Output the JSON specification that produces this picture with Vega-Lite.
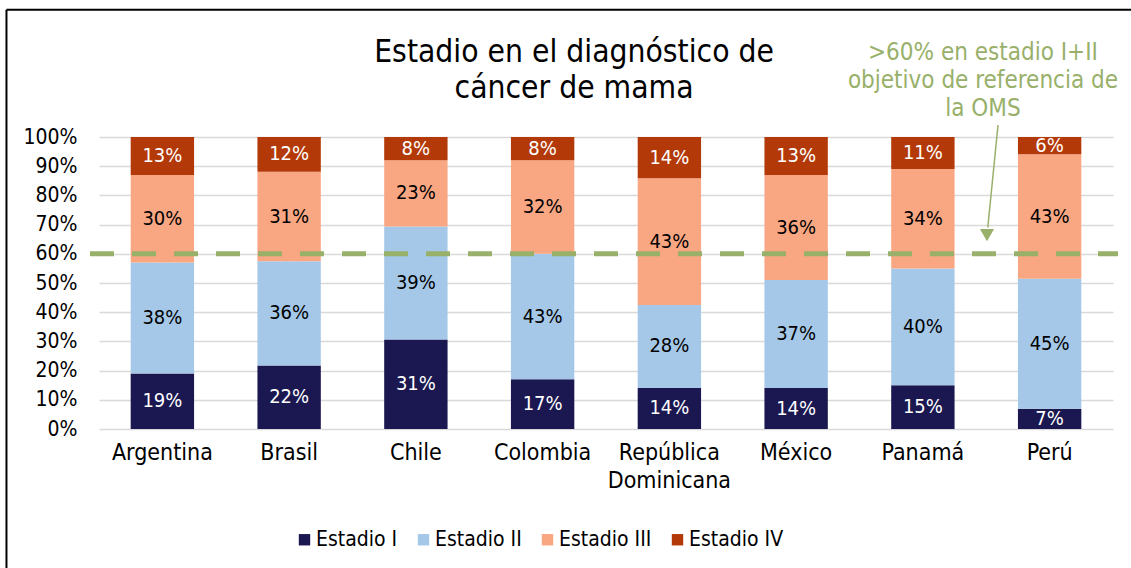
{
  "$schema": "https://vega.github.io/schema/vega-lite/v6.json",
  "width": 1014,
  "height": 292,
  "autosize": {"type": "none"},
  "padding": {"left": 99, "top": 137, "right": 18, "bottom": 139},
  "background": "white",
  "config": {
    "font": "DejaVu Sans Condensed, DejaVu Sans, sans-serif",
    "view": {"stroke": null},
    "axisY": {
      "title": null,
      "format": ".0%",
      "labelOverlap": false,
      "labelFontSize": 21,
      "labelColor": "black",
      "labelPadding": 22,
      "ticks": false,
      "domain": false,
      "grid": true,
      "gridColor": "#D9D9D9",
      "gridWidth": 1.5
    }
  },
  "datasets": {
    "bars": [
      {"pais": "Argentina", "estadio": "Estadio I", "orden": 1, "valor": 0.19},
      {"pais": "Argentina", "estadio": "Estadio II", "orden": 2, "valor": 0.38},
      {"pais": "Argentina", "estadio": "Estadio III", "orden": 3, "valor": 0.30},
      {"pais": "Argentina", "estadio": "Estadio IV", "orden": 4, "valor": 0.13},
      {"pais": "Brasil", "estadio": "Estadio I", "orden": 1, "valor": 0.22},
      {"pais": "Brasil", "estadio": "Estadio II", "orden": 2, "valor": 0.36},
      {"pais": "Brasil", "estadio": "Estadio III", "orden": 3, "valor": 0.31},
      {"pais": "Brasil", "estadio": "Estadio IV", "orden": 4, "valor": 0.12},
      {"pais": "Chile", "estadio": "Estadio I", "orden": 1, "valor": 0.31},
      {"pais": "Chile", "estadio": "Estadio II", "orden": 2, "valor": 0.39},
      {"pais": "Chile", "estadio": "Estadio III", "orden": 3, "valor": 0.23},
      {"pais": "Chile", "estadio": "Estadio IV", "orden": 4, "valor": 0.08},
      {"pais": "Colombia", "estadio": "Estadio I", "orden": 1, "valor": 0.17},
      {"pais": "Colombia", "estadio": "Estadio II", "orden": 2, "valor": 0.43},
      {"pais": "Colombia", "estadio": "Estadio III", "orden": 3, "valor": 0.32},
      {"pais": "Colombia", "estadio": "Estadio IV", "orden": 4, "valor": 0.08},
      {"pais": "República Dominicana", "estadio": "Estadio I", "orden": 1, "valor": 0.14},
      {"pais": "República Dominicana", "estadio": "Estadio II", "orden": 2, "valor": 0.28},
      {"pais": "República Dominicana", "estadio": "Estadio III", "orden": 3, "valor": 0.43},
      {"pais": "República Dominicana", "estadio": "Estadio IV", "orden": 4, "valor": 0.14},
      {"pais": "México", "estadio": "Estadio I", "orden": 1, "valor": 0.14},
      {"pais": "México", "estadio": "Estadio II", "orden": 2, "valor": 0.37},
      {"pais": "México", "estadio": "Estadio III", "orden": 3, "valor": 0.36},
      {"pais": "México", "estadio": "Estadio IV", "orden": 4, "valor": 0.13},
      {"pais": "Panamá", "estadio": "Estadio I", "orden": 1, "valor": 0.15},
      {"pais": "Panamá", "estadio": "Estadio II", "orden": 2, "valor": 0.40},
      {"pais": "Panamá", "estadio": "Estadio III", "orden": 3, "valor": 0.34},
      {"pais": "Panamá", "estadio": "Estadio IV", "orden": 4, "valor": 0.11},
      {"pais": "Perú", "estadio": "Estadio I", "orden": 1, "valor": 0.07},
      {"pais": "Perú", "estadio": "Estadio II", "orden": 2, "valor": 0.45},
      {"pais": "Perú", "estadio": "Estadio III", "orden": 3, "valor": 0.43},
      {"pais": "Perú", "estadio": "Estadio IV", "orden": 4, "valor": 0.06}
    ],
    "objetivo": [{"nivel": 0.6, "desde": -0.071, "hasta": 8.04}],
    "titulo": [{"texto": ["Estadio en el diagnóstico de", "cáncer de mama"], "x": 3.748, "y": 1.2568}],
    "nota": [{"texto": [">60% en estadio I+II", "objetivo de referencia de", "la OMS"], "x": 6.974, "y": 1.265}],
    "flecha": [{"x1": 7.093, "y1": 1.041, "x2": 7.012, "y2": 0.69, "xp": 7.006, "yp": 0.664}],
    "marco": [
      {"x1": -0.73, "x2": 8.3, "y1": 1.436, "y2": 1.436},
      {"x1": -0.73, "x2": -0.73, "y1": 1.436, "y2": -0.6}
    ]
  },
  "resolve": {"scale": {"x": "independent"}},
  "layer": [
    {
      "data": {"name": "bars"},
      "transform": [
        {"stack": "valor", "groupby": ["pais"], "sort": [{"field": "orden"}], "offset": "normalize", "as": ["y0", "y1"]},
        {"calculate": "(datum.y0 + datum.y1) / 2", "as": "mid"}
      ],
      "encoding": {
        "x": {
          "field": "pais",
          "type": "nominal",
          "sort": null,
          "scale": {"paddingInner": 0.5, "paddingOuter": 0.25},
          "axis": {
            "title": null,
            "labelAngle": 0,
            "labelFontSize": 23,
            "labelColor": "black",
            "labelPadding": 12,
            "labelLineHeight": 28,
            "labelLimit": 300,
            "labelExpr": "datum.label == 'República Dominicana' ? ['República', 'Dominicana'] : datum.label",
            "ticks": false,
            "domain": false,
            "grid": false
          }
        }
      },
      "layer": [
        {
          "mark": {"type": "bar"},
          "encoding": {
            "y": {
              "field": "y0",
              "type": "quantitative",
              "scale": {"domain": [0, 1], "nice": false},
              "axis": {"values": [0, 0.1, 0.2, 0.3, 0.4, 0.5, 0.6, 0.7, 0.8, 0.9, 1]}
            },
            "y2": {"field": "y1"},
            "color": {
              "field": "estadio",
              "type": "nominal",
              "scale": {
                "domain": ["Estadio I", "Estadio II", "Estadio III", "Estadio IV"],
                "range": ["#1B1851", "#A5C8E8", "#F9A783", "#B33A08"]
              },
              "legend": {
                "title": null,
                "orient": "none",
                "direction": "horizontal",
                "legendX": 195,
                "legendY": 392,
                "symbolType": "square",
                "symbolSize": 130,
                "symbolStrokeWidth": 0,
                "symbolOpacity": 1,
                "labelFontSize": 21,
                "labelColor": "black",
                "labelOffset": 1,
                "columnPadding": 15
              }
            }
          }
        },
        {
          "mark": {"type": "text", "fontSize": 20, "baseline": "middle"},
          "encoding": {
            "y": {
              "field": "mid",
              "type": "quantitative",
              "scale": {"domain": [0, 1], "nice": false},
              "axis": {"values": [0, 0.1, 0.2, 0.3, 0.4, 0.5, 0.6, 0.7, 0.8, 0.9, 1]}
            },
            "text": {"field": "valor", "type": "quantitative", "format": ".0%"},
            "color": {
              "condition": {"test": "datum.estadio == 'Estadio I' || datum.estadio == 'Estadio IV'", "value": "white"},
              "value": "black"
            }
          }
        }
      ]
    },
    {
      "data": {"name": "objetivo"},
      "mark": {"type": "rule", "color": "#98B06A", "strokeWidth": 5, "strokeDash": [24, 18]},
      "encoding": {
        "x": {"field": "desde", "type": "quantitative", "scale": {"domain": [0, 8], "nice": false, "zero": false}, "axis": null},
        "x2": {"field": "hasta"},
        "y": {
          "field": "nivel",
          "type": "quantitative",
          "scale": {"domain": [0, 1], "nice": false},
          "axis": {"values": [0, 0.1, 0.2, 0.3, 0.4, 0.5, 0.6, 0.7, 0.8, 0.9, 1]}
        }
      }
    },
    {
      "data": {"name": "titulo"},
      "mark": {"type": "text", "fontSize": 31.5, "color": "black", "align": "center", "baseline": "alphabetic", "lineHeight": 36},
      "encoding": {
        "x": {"field": "x", "type": "quantitative", "scale": {"domain": [0, 8], "nice": false, "zero": false}, "axis": null},
        "y": {
          "field": "y",
          "type": "quantitative",
          "scale": {"domain": [0, 1], "nice": false},
          "axis": {"values": [0, 0.1, 0.2, 0.3, 0.4, 0.5, 0.6, 0.7, 0.8, 0.9, 1]}
        },
        "text": {"field": "texto"}
      }
    },
    {
      "data": {"name": "nota"},
      "mark": {"type": "text", "fontSize": 24, "color": "#98B06A", "align": "center", "baseline": "alphabetic", "lineHeight": 28},
      "encoding": {
        "x": {"field": "x", "type": "quantitative", "scale": {"domain": [0, 8], "nice": false, "zero": false}, "axis": null},
        "y": {
          "field": "y",
          "type": "quantitative",
          "scale": {"domain": [0, 1], "nice": false},
          "axis": {"values": [0, 0.1, 0.2, 0.3, 0.4, 0.5, 0.6, 0.7, 0.8, 0.9, 1]}
        },
        "text": {"field": "texto"}
      }
    },
    {
      "data": {"name": "flecha"},
      "mark": {"type": "rule", "color": "#98B06A", "strokeWidth": 1.5},
      "encoding": {
        "x": {"field": "x1", "type": "quantitative", "scale": {"domain": [0, 8], "nice": false, "zero": false}, "axis": null},
        "x2": {"field": "x2"},
        "y": {
          "field": "y1",
          "type": "quantitative",
          "scale": {"domain": [0, 1], "nice": false},
          "axis": {"values": [0, 0.1, 0.2, 0.3, 0.4, 0.5, 0.6, 0.7, 0.8, 0.9, 1]}
        },
        "y2": {"field": "y2"}
      }
    },
    {
      "data": {"name": "flecha"},
      "mark": {"type": "point", "shape": "triangle-down", "filled": true, "color": "#98B06A", "opacity": 1, "size": 200},
      "encoding": {
        "x": {"field": "xp", "type": "quantitative", "scale": {"domain": [0, 8], "nice": false, "zero": false}, "axis": null},
        "y": {
          "field": "yp",
          "type": "quantitative",
          "scale": {"domain": [0, 1], "nice": false},
          "axis": {"values": [0, 0.1, 0.2, 0.3, 0.4, 0.5, 0.6, 0.7, 0.8, 0.9, 1]}
        }
      }
    },
    {
      "data": {"name": "marco"},
      "mark": {"type": "rule", "color": "black", "strokeWidth": 2},
      "encoding": {
        "x": {"field": "x1", "type": "quantitative", "scale": {"domain": [0, 8], "nice": false, "zero": false}, "axis": null},
        "x2": {"field": "x2"},
        "y": {
          "field": "y1",
          "type": "quantitative",
          "scale": {"domain": [0, 1], "nice": false},
          "axis": {"values": [0, 0.1, 0.2, 0.3, 0.4, 0.5, 0.6, 0.7, 0.8, 0.9, 1]}
        },
        "y2": {"field": "y2"}
      }
    }
  ]
}
